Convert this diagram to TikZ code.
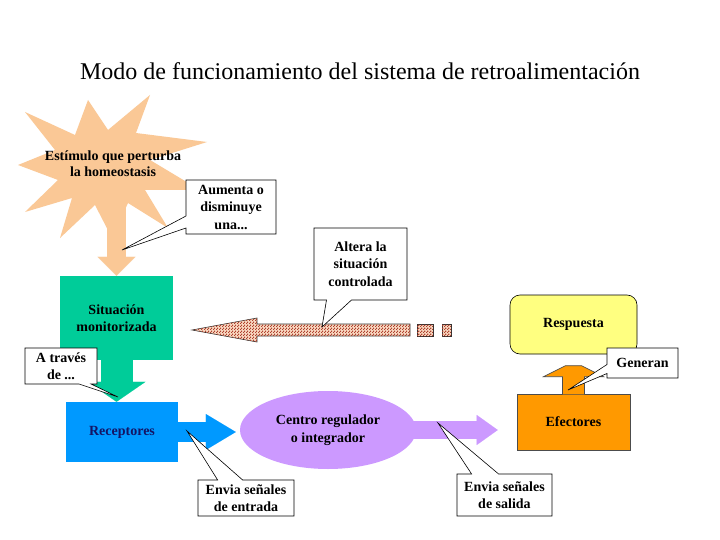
\documentclass[tikz,border=0pt]{standalone}
\usepackage{fontspec}
\setmainfont{Liberation Serif}
\usetikzlibrary{shapes.geometric,shapes.callouts,arrows.meta,positioning,calc,patterns}

\definecolor{peach}{RGB}{250,200,150}
\definecolor{mint}{RGB}{0,204,153}
\definecolor{skyblue}{RGB}{0,153,255}
\definecolor{lilac}{RGB}{204,153,255}
\definecolor{amber}{RGB}{255,153,0}
\definecolor{lemon}{RGB}{255,255,128}
\definecolor{dotbg}{RGB}{250,218,195}
\definecolor{dotfg}{RGB}{175,65,45}
\definecolor{navytext}{RGB}{20,20,100}

% small checker dots for the feedback arrow
\pgfdeclarepatternformonly{fine checks}{\pgfpointorigin}{\pgfpoint{3pt}{3pt}}{\pgfpoint{3pt}{3pt}}{%
  \pgfpathrectangle{\pgfpointorigin}{\pgfpoint{1.4pt}{1.4pt}}%
  \pgfpathrectangle{\pgfpoint{1.5pt}{1.5pt}}{\pgfpoint{1.4pt}{1.4pt}}%
  \pgfusepath{fill}}

\begin{document}
\begin{tikzpicture}[x=1pt, y=-1pt,
    txt/.style={font=\fontsize{14}{17.5}\selectfont\bfseries, align=center},
    block/.style={rectangle, txt, inner sep=0pt},
    note/.style={rectangle callout, draw=black, line width=0.6pt, fill=white, txt, inner sep=2pt, callout pointer width=12pt},
    blockarrow/.style args={#1/#2/#3/#4}{draw=#1, line width=#2, -{Triangle[width=#3, length=#4, line width=0.1pt, fill=#1]}},
    dotted arrow/.style={fill=dotbg, draw=black!80, line width=0.6pt, postaction={pattern=fine checks, pattern color=dotfg}}
]

\useasboundingbox[fill=white] (0,0) rectangle (720,540);

% Title
\node[font=\fontsize{24}{28}\selectfont] (title) at (360,71) {Modo de funcionamiento del sistema de retroalimentación};

% Stimulus burst
\fill[peach] (150,95) -- (136,133) -- (207,142) -- (150,160) -- (200,190) -- (145,190)
    -- (168,228) -- (128,203) -- (112,238) -- (95,205) -- (60,238) -- (72,198)
    -- (25,212) -- (58,180) -- (18,165) -- (55,150) -- (25,112) -- (75,135)
    -- (88,100) -- (108,130) -- cycle;
\node[txt, font=\fontsize{14}{16}\selectfont\bfseries] (stim) at (113,164) {Estímulo que perturba\\la homeostasis};

% Main blocks
\node[block, fill=mint, minimum width=113pt, minimum height=84pt] (sit) at (116.5,318) {Situación\\monitorizada};
\node[block, fill=skyblue, text=navytext, minimum width=112pt, minimum height=60pt] (rec) at (122,432) {Receptores};
\node[ellipse, fill=lilac, txt, minimum width=176pt, minimum height=78pt, inner sep=0pt] (cen) at (328,430) {Centro regulador\\o integrador};
\node[block, fill=amber, draw=black!70, line width=0.6pt, minimum width=113pt, minimum height=56pt] (ef) at (573.5,422) {Efectores};
\node[block, fill=lemon, draw=black, line width=0.6pt, rounded corners=10pt, minimum width=127pt, minimum height=59pt] (res) at (573.5,324.5) {Respuesta};

% Block arrows
\draw[blockarrow={peach/19pt/38pt/19pt}] (sit.north |- stim.south) -- (sit.north);
\draw[blockarrow={mint/32pt/58pt/20pt}] (sit.south) -- (sit.south |- rec.north);
\draw[blockarrow={skyblue/20pt/36pt/30pt}, shorten >=4pt] (rec.east) -- (rec.east -| cen.west);
\draw[blockarrow={lilac/18pt/30pt/21pt}, shorten >=19pt] ([xshift=-20pt]cen.east) -- (cen.east -| ef.west);
\filldraw[fill=amber, draw=black!70, line width=0.6pt] ($(ef.north)+(-11,0.6)$) -- ++(0,-17.6) -- ++(-19,0)
    -- ++(22,-11) -- ++(16,0) -- ++(22,11) -- ++(-19,0) -- ++(0,17.6);

% Feedback arrow (dotted)
\draw[dotted arrow] (192,330) -- (257,318) -- (257,324) -- (410,324) -- (410,336) -- (257,336) -- (257,342) -- cycle;
\draw[dotted arrow] (417,324) rectangle (433,336);
\draw[dotted arrow] (442,324) rectangle (451,336);

% Callouts
\coordinate (pAum) at (122,250);
\coordinate (pAlt) at (322,327);
\coordinate (pAtr) at (118,397);
\coordinate (pGen) at (568,390);
\coordinate (pEnt) at (187,431);
\coordinate (pSal) at (438,423);

\node[note, minimum width=90pt, minimum height=54pt, callout absolute pointer={(pAum)}] (aum) at (231,207) {Aumenta o\\disminuye\\una...};
\node[note, minimum width=93pt, minimum height=72pt, callout pointer width=25pt, callout absolute pointer={(pAlt)}] (alt) at (360.5,264) {Altera la\\situación\\controlada};
\node[note, minimum width=72pt, minimum height=36pt, callout absolute pointer={(pAtr)}] (atr) at (61,366) {A través\\de ...};
\node[note, minimum width=71pt, minimum height=30pt, callout pointer width=9pt, callout absolute pointer={(pGen)}] (gen) at (642.5,363) {Generan};
\node[note, minimum width=96pt, minimum height=36pt, callout pointer width=25pt, callout absolute pointer={(pEnt)}] (ent) at (246,498) {Envia señales\\de entrada};
\node[note, minimum width=95pt, minimum height=42pt, callout pointer width=27pt, callout absolute pointer={(pSal)}] (sal) at (504.5,495) {Envia señales\\de salida};

\end{tikzpicture}
\end{document}
